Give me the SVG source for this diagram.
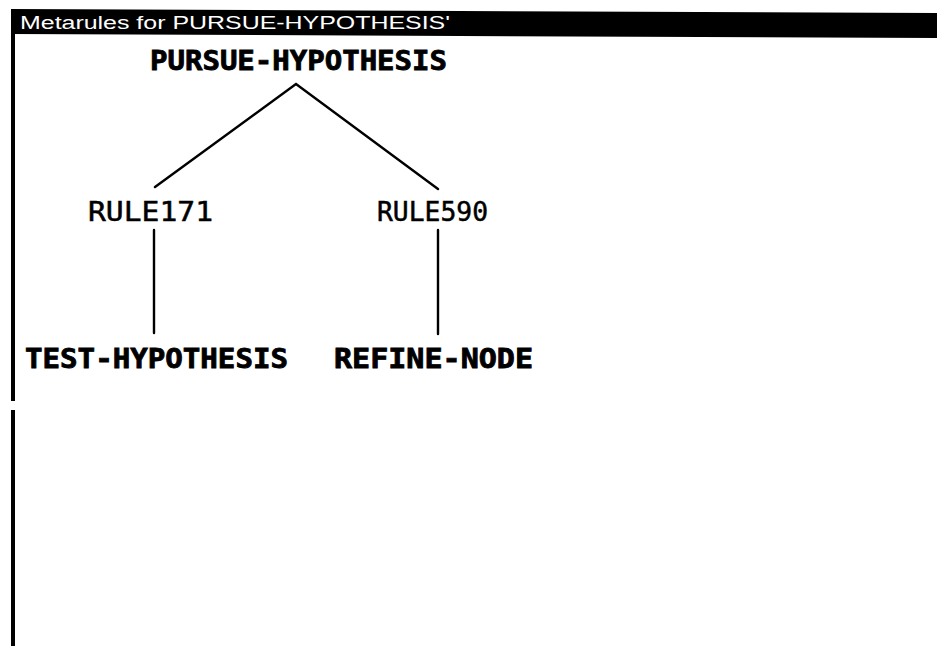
<svg xmlns="http://www.w3.org/2000/svg" width="937" height="648" viewBox="0 0 937 648">
<style>
.node{font-family:"DejaVu Sans Mono","Liberation Mono",monospace;font-size:26px;fill:#000}
.b{font-weight:bold;stroke:#000;stroke-width:0.8}
.r{stroke:#000;stroke-width:0.5}
.title{font-family:"Liberation Sans",Arial,sans-serif;font-size:18px;fill:#fff}
.edge{stroke:#000;stroke-width:2.4;fill:none;stroke-linecap:round}
</style>
<rect x="0" y="0" width="937" height="648" fill="#fff"/>
<g id="window">
<polygon points="11,9 937,13 937,38 11,34" fill="#000"/>
<rect x="11" y="9" width="4" height="392" fill="#000"/>
<rect x="11" y="410" width="4" height="236" fill="#000"/>
<text class="title" x="20" y="29" textLength="430" lengthAdjust="spacingAndGlyphs">Metarules for PURSUE-HYPOTHESIS'</text>
</g>
<g id="connectors">
<polyline class="edge" points="155,187 296,84 438,189"/>
<line class="edge" x1="154" y1="230" x2="154" y2="333"/>
<line class="edge" x1="438" y1="230" x2="438" y2="334"/>
</g>
<g id="node-pursue"><text class="node b" x="150" y="70" textLength="297" lengthAdjust="spacingAndGlyphs">PURSUE-HYPOTHESIS</text></g>
<g id="node-rule171"><text class="node r" x="88" y="221" textLength="125" lengthAdjust="spacingAndGlyphs">RULE171</text></g>
<g id="node-rule590"><text class="node r" x="377" y="221" textLength="111" lengthAdjust="spacingAndGlyphs">RULE590</text></g>
<g id="node-test"><text class="node b" x="25" y="368" textLength="263" lengthAdjust="spacingAndGlyphs">TEST-HYPOTHESIS</text></g>
<g id="node-refine"><text class="node b" x="334" y="368" textLength="199" lengthAdjust="spacingAndGlyphs">REFINE-NODE</text></g>
</svg>
